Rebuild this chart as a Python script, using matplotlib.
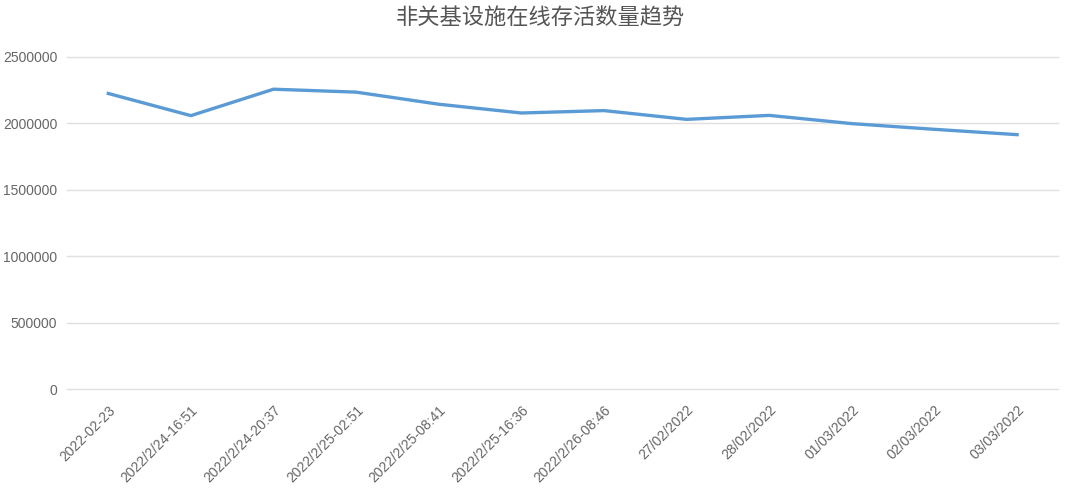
import matplotlib.pyplot as plt
from matplotlib.ticker import MultipleLocator, StrMethodFormatter

plt.rcParams['font.family'] = ['Liberation Sans', 'Noto Sans CJK SC', 'DejaVu Sans']

# *** data ***
labels = [
    "2022-02-23", "2022/2/24-16:51", "2022/2/24-20:37", "2022/2/25-02:51",
    "2022/2/25-08:41", "2022/2/25-16:36", "2022/2/26-08:46", "27/02/2022",
    "28/02/2022", "01/03/2022", "02/03/2022", "03/03/2022",
]
counts = [
    2225000, 2058000, 2257000, 2235000, 2144000, 2078000,
    2096000, 2030000, 2060000, 1998000, 1955000, 1915000,
]
title = "非关基设施在线存活数量趋势"

fig = plt.figure(figsize=(10.8, 4.95), dpi=100)
ax = fig.add_axes([0.062, 0.214, 0.918, 0.671])

x = range(len(labels))
ax.plot(x, counts, color="#5b9bd5", linewidth=2.4, solid_joinstyle="round")

ax.set_xlim(-0.5, len(labels) - 0.5)
ax.set_ylim(0, 2500000)
ax.yaxis.set_major_locator(MultipleLocator(500000))
ax.yaxis.set_major_formatter(StrMethodFormatter("{x:.0f}"))
ax.grid(axis="y", color="#e0e0e0", linewidth=1)
ax.set_axisbelow(True)
for gl in ax.get_ygridlines():
    gl.set_clip_on(False)

for s in ax.spines.values():
    s.set_visible(False)

ax.set_xticks(list(x))
ax.set_xticklabels(labels, rotation=45, ha="right", rotation_mode="anchor",
                   fontsize=10, color="#666666")
ax.tick_params(axis="x", length=0, pad=10)
ax.tick_params(axis="y", length=0, pad=7, labelsize=10, labelcolor="#666666")

fig.text(0.5, 0.963, title, family=["Noto Sans CJK SC", "DejaVu Sans"],
         ha="center", va="center", fontsize=16, color="#555555")

fig.savefig("out.png", dpi=100, facecolor="white")
plt.close()
